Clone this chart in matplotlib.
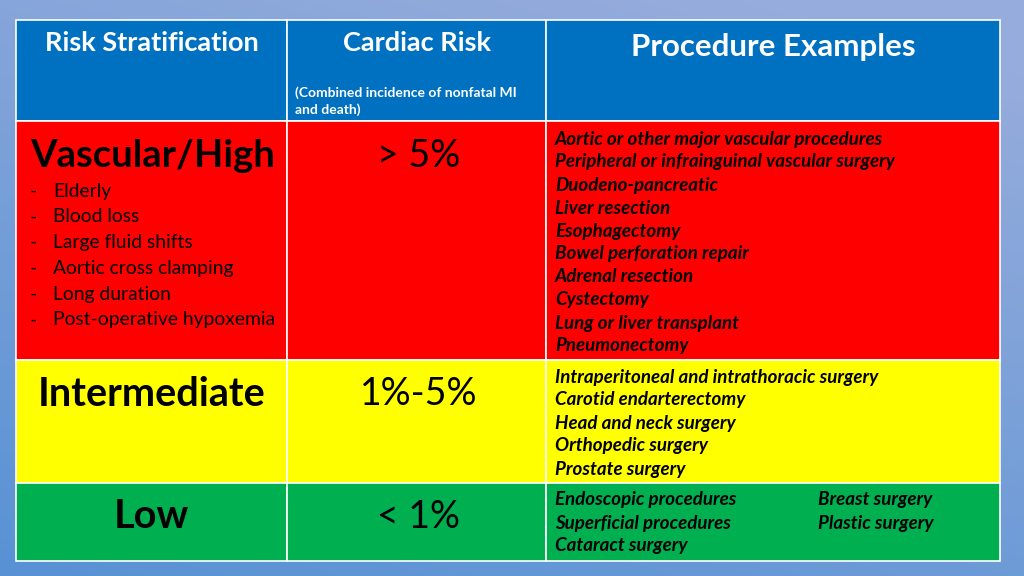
import matplotlib
matplotlib.use("Agg")
import matplotlib.pyplot as plt
from matplotlib.patches import Rectangle
import numpy as np

# ---- data ----
headers = ["Risk Stratification", "Cardiac Risk", "Procedure Examples"]
header_note = "(Combined incidence of nonfatal MI\nand death)"
risk_levels = ["Vascular/High", "Intermediate", "Low"]
cardiac_risk = ["> 5%", "1%-5%", "< 1%"]
high_factors = ["Elderly", "Blood loss", "Large fluid shifts", "Aortic cross clamping",
                "Long duration", "Post-operative hypoxemia"]
high_procedures = ["Aortic or other major vascular procedures",
                   "Peripheral or infrainguinal vascular surgery",
                   "Duodeno-pancreatic", "Liver resection", "Esophagectomy",
                   "Bowel perforation repair", "Adrenal resection", "Cystectomy",
                   "Lung or liver transplant", "Pneumonectomy"]
intermediate_procedures = ["Intraperitoneal and intrathoracic surgery",
                           "Carotid endarterectomy", "Head and neck surgery",
                           "Orthopedic surgery", "Prostate surgery"]
low_procedures_a = ["Endoscopic procedures", "Superficial procedures", "Cataract surgery"]
low_procedures_b = ["Breast surgery", "Plastic surgery"]

# ---- layout ----
W, H = 1024, 576
fig = plt.figure(figsize=(10.24, 5.76), dpi=100)
ax = fig.add_axes([0, 0, 1, 1])
ax.set_xlim(0, W)
ax.set_ylim(H, 0)
ax.axis("off")

# background gradient
yy, xx = np.mgrid[0:1:200j, 0:1:360j]
t = np.clip(0.75 * yy + 0.35 * (1 - xx) - 0.1, 0, 1)
top = np.array([150, 172, 220]) / 255
bot = np.array([88, 146, 212]) / 255
img = top[None, None, :] * (1 - t[..., None]) + bot[None, None, :] * t[..., None]
ax.imshow(img, extent=[0, W, H, 0], aspect="auto", zorder=0)

FONT = "Lato"
x0, x1, x2, x3 = 16, 287, 546, 1000
rows_y = [20, 121, 360, 483, 561]
fills = ["#0070C0", "#FF0000", "#FFFF00", "#00B050"]
cols = [(x0, x1), (x1, x2), (x2, x3)]
for r in range(4):
    for (a, b) in cols:
        ax.add_patch(Rectangle((a, rows_y[r]), b - a, rows_y[r + 1] - rows_y[r],
                               facecolor=fills[r], edgecolor="white", lw=1.2, zorder=1))

# header
ax.text((x0 + x1) / 2 + 0.5, 43, headers[0], color="white", fontsize=19.5, fontweight="bold",
        ha="center", va="center", family=FONT)
ax.text((x1 + x2) / 2 + 0.5, 43, headers[1], color="white", fontsize=19.5, fontweight="bold",
        ha="center", va="center", family=FONT)
ax.text(295, 101, header_note, color="white", fontsize=10, fontweight="bold",
        ha="left", va="center", family=FONT, linespacing=1.35)
ax.text((x2 + x3) / 2, 47, headers[2], color="white", fontsize=22.5, fontweight="bold",
        ha="center", va="center", family=FONT)

# risk level names
name_y = [156, 394, 517]
ax.text(30, name_y[0], risk_levels[0], fontsize=27.5, fontweight="bold",
        ha="left", va="center", family=FONT, color="black")
for i in (1, 2):
    ax.text((x0 + x1) / 2, name_y[i], risk_levels[i], fontsize=28.5, fontweight="bold",
            ha="center", va="center", family=FONT, color="black")
for i in range(3):
    ax.text((x1 + x2) / 2 + 2, name_y[i], cardiac_risk[i], fontsize=27,
            ha="center", va="center", family=FONT, color="black")

# high factors
for k, f in enumerate(high_factors):
    y = 191 + k * 25.8
    ax.text(30, y, "-", fontsize=13.9, ha="left", va="center", family=FONT)
    ax.text(53, y, f, fontsize=13.9, ha="left", va="center", family=FONT)

# procedures
def plist(items, x, y0, dy=23.0):
    for k, s in enumerate(items):
        ax.text(x, y0 + k * dy, s, fontsize=13.5, fontweight="bold", style="italic",
                ha="left", va="center", family=FONT, color="black")

plist(high_procedures, 555, 139)
plist(intermediate_procedures, 555, 377)
plist(low_procedures_a, 555, 500)
plist(low_procedures_b, 818, 500)

fig.savefig("out.png", dpi=100)
